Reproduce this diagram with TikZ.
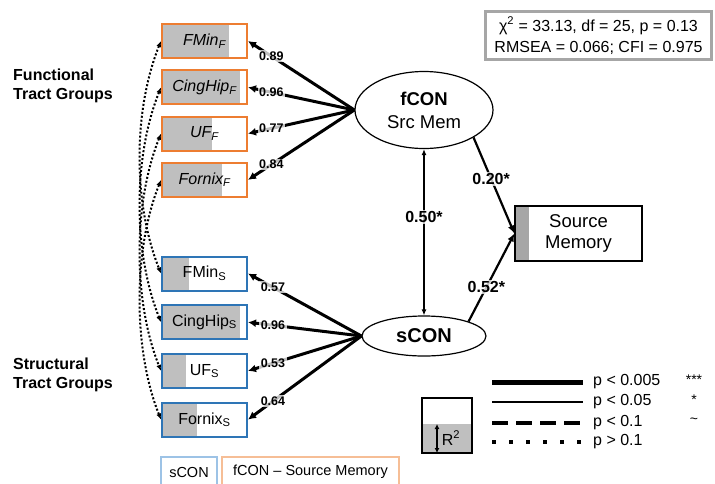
\documentclass[tikz,border=0pt]{standalone}
\usepackage{fontspec}
\setmainfont{Liberation Sans}
\usepackage{tikz}
\usetikzlibrary{positioning}
\usetikzlibrary{arrows.meta}
\usetikzlibrary{shapes.geometric}

\definecolor{fcol}{RGB}{237,125,49}
\definecolor{scol}{RGB}{46,117,182}
\definecolor{fcollight}{RGB}{246,190,150}
\definecolor{scollight}{RGB}{157,195,230}
\definecolor{rsqcol}{RGB}{191,191,191}
\definecolor{fitcol}{RGB}{166,166,166}
\newcommand{\fsz}[2]{\fontsize{#1}{#2}\selectfont}

\begin{document}
\begin{tikzpicture}[
    x=1pt, y=-1pt,
    rsq/.style={path picture={\fill[rsqcol] (path picture bounding box.south west) rectangle ([xshift=#1*85pt]path picture bounding box.north west);}},
    fbox/.style={draw=fcol, line width=2pt, minimum width=85pt, minimum height=34pt, inner sep=0pt, font=\fsz{16}{18}\itshape, rsq=#1},
    sbox/.style={draw=scol, line width=2pt, minimum width=85pt, minimum height=34pt, inner sep=0pt, font=\fsz{16}{18}, rsq=#1},
    latent/.style={draw, ellipse, line width=1.2pt, inner sep=0pt, align=center},
    coef/.style={font=\fsz{12.5}{14}\bfseries, fill=white, fill opacity=.75, text opacity=1, inner sep=1.5pt},
    bigcoef/.style={coef, font=\fsz{16}{18}\bfseries},
    load/.style={line width=3pt, -{Latex[length=8pt,width=8pt]}},
    resid/.style={line width=2pt, dash pattern=on 2pt off 2pt, {Latex[length=6pt,width=5pt]}-{Latex[length=6pt,width=5pt]}},
    grp/.style={font=\fsz{16}{19}\bfseries, align=left, inner sep=0pt, anchor=west},
    legtext/.style={font=\fsz{16}{18}, inner sep=0pt, anchor=west}
    ]
    \useasboundingbox (0,0) rectangle (715,483);

    % functional tract groups
    \node[fbox=0.79] (fmf) at (204.5,41) {FMin\textsubscript{F}};
    \node[fbox=0.92, below=10.3pt of fmf] (cif) {CingHip\textsubscript{F}};
    \node[fbox=0.59, below=10.3pt of cif] (uff) {UF\textsubscript{F}};
    \node[fbox=0.71, below=10.3pt of uff] (fxf) {Fornix\textsubscript{F}};

    % structural tract groups
    \node[sbox=0.32] (fms) at (204.5,273.5) {FMin\textsubscript{S}};
    \node[sbox=0.92, below=12.7pt of fms] (cis) {CingHip\textsubscript{S}};
    \node[sbox=0.28, below=12.7pt of cis] (ufs) {UF\textsubscript{S}};
    \node[sbox=0.41, below=12.7pt of ufs] (fxs) {Fornix\textsubscript{S}};

    \node[grp] (fgrp) at (13,85.5) {Functional\\Tract Groups};
    \node[grp] (sgrp) at (13,374.5) {Structural\\Tract Groups};

    \node[latent, minimum width=138pt, minimum height=77pt, font=\fsz{18.5}{23}] (fcon) at (424,110)
      {\textbf{fCON}\\Src Mem};
    \node[latent, minimum width=124pt, minimum height=40pt, font=\fsz{20}{22}\bfseries] (scon) at (424,336) {sCON};

    \node[draw, line width=1.2pt, minimum width=127pt, minimum height=55pt, align=center, font=\fsz{18.5}{21},
      path picture={\fill[gray!70] (path picture bounding box.south west) rectangle ([xshift=14pt]path picture bounding box.north west);}]
      (srcmem) at (578.5,233.5) {Source\\Memory};

    \node[draw=fitcol, line width=3pt, minimum width=226pt, minimum height=48pt, align=center, font=\fsz{16}{21}]
      (fit) at (598.5,35.5) {χ\textsuperscript{2} = 33.13, df = 25, p = 0.13\\RMSEA = 0.066; CFI = 0.975};

    % loadings
    \path (fcon.west) edge[load] node[coef, pos=.78] {0.89} (fmf.east)
    (fcon.west) edge[load] node[coef, pos=.78] {0.96} (cif.east)
    (fcon.west) edge[load] node[coef, pos=.78] {0.77} (uff.east)
    (fcon.west) edge[load] node[coef, pos=.78] {0.84} (fxf.east)
    (scon.west) edge[load] node[coef, pos=.78] {0.57} (fms.east)
    (scon.west) edge[load] node[coef, pos=.78] {0.96} (cis.east)
    (scon.west) edge[load] node[coef, pos=.78] {0.53} (ufs.east)
    (scon.west) edge[load] node[coef, pos=.78] {0.64} (fxs.east)
    ;

    % structural paths
    \path (fcon.south) edge[line width=1.3pt, {Latex[length=6pt,width=5pt]}-{Latex[length=6pt,width=5pt]}] node[bigcoef, pos=.41] {0.50*} (scon.north)
    (fcon.-29) edge[line width=2.2pt, -{Latex[length=8pt,width=7pt]}] node[bigcoef, pos=.43] {0.20*} (srcmem.west)
    (scon.18) edge[line width=2.2pt, -{Latex[length=8pt,width=7pt]}] node[bigcoef, pos=.39] {0.52*} (srcmem.west)
    ;

    % residual covariances
    \draw[resid] (fmf.west) .. controls +(-28,70) and +(-28,-70) .. (fms.west);
    \draw[resid] (cif.west) .. controls +(-28,70) and +(-28,-70) .. (cis.west);
    \draw[resid] (uff.west) .. controls +(-28,70) and +(-28,-70) .. (ufs.west);
    \draw[resid] (fxf.west) .. controls +(-28,70) and +(-28,-70) .. (fxs.west);

    % legend
    \node[legtext] (p1) at (593,382) {p < 0.005};
    \node[legtext] (p2) at (593,402) {p < 0.05};
    \node[legtext] (p3) at (593,423) {p < 0.1};
    \node[legtext] (p4) at (593,442) {p > 0.1};
    \coordinate (l1) at (492,382);
    \coordinate (l2) at (492,402);
    \coordinate (l3) at (492,423);
    \coordinate (l4) at (492,442);
    \draw[line width=5pt] (l1) -- (l1 -| 583,0);
    \draw[line width=1.5pt] (l2) -- (l2 -| 583,0);
    \draw[line width=4pt, dash pattern=on 16pt off 8pt] (l3) -- (l3 -| 583,0);
    \draw[line width=3.5pt, dash pattern=on 3.5pt off 13.5pt] (l4) -- (l4 -| 583,0);
    \node[font=\fsz{14}{16}] (s1) at (694,380) {***};
    \node[font=\fsz{14}{16}] (s2) at (694,400) {*};
    \node[font=\fsz{14}{16}] (s3) at (694,421) {\textasciitilde};

    \node[draw, line width=1.2pt, minimum width=50pt, minimum height=55pt,
      path picture={\fill[rsqcol] (path picture bounding box.south west) rectangle ([yshift=29pt]path picture bounding box.south east);}]
      (r2box) at (447,425.5) {};
    \coordinate (r2a) at (437,424);
    \coordinate (r2b) at (437,453);
    \draw[line width=1.3pt, {Latex[length=5pt,width=5pt]}-{Latex[length=5pt,width=5pt]}] (r2a) -- (r2b);
    \node[font=\fsz{16}{18}, inner sep=0pt] (r2) at (451,438) {R\textsuperscript{2}};

    \node[draw=scollight, line width=1.2pt, minimum width=56pt, minimum height=30pt, font=\fsz{14.5}{16}] (skey) at (189,472) {sCON};
    \node[draw=fcollight, line width=1.2pt, minimum width=177pt, minimum height=30pt, font=\fsz{14.5}{16}] (fkey) at (310.5,472) {fCON -- Source Memory};

  \end{tikzpicture}
\end{document}
